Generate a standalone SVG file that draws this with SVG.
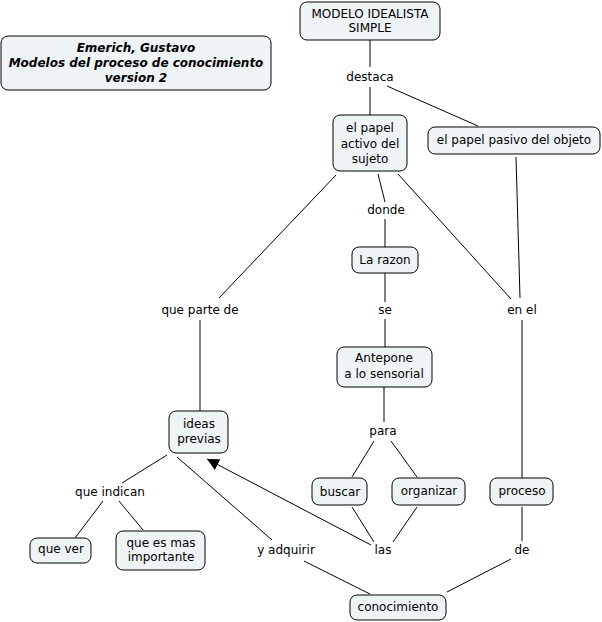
<svg xmlns="http://www.w3.org/2000/svg" width="602" height="622" viewBox="0 0 602 622">
<defs>
<style>
.n rect{fill:#eef3f5;stroke:#000;stroke-width:1}
text{font-family:"DejaVu Sans",Verdana,sans-serif;font-size:12px;fill:#000;text-anchor:middle;dominant-baseline:central}
.t{font-weight:bold;font-style:italic}
.c line{stroke:#000;stroke-width:1}
</style>
<marker id="ah" viewBox="0 0 10 10" refX="10" refY="5" markerWidth="12" markerHeight="12" markerUnits="userSpaceOnUse" orient="auto"><path d="M0,0L10,5L0,10z" fill="#000"/></marker>
</defs>
<rect width="602" height="622" fill="#fff"/>
<g class="c">
<line x1="370" y1="40" x2="370" y2="67"/>
<line x1="370" y1="87" x2="370" y2="115"/>
<line x1="387" y1="86" x2="478" y2="126"/>
<line x1="336" y1="175" x2="219" y2="298"/>
<line x1="200" y1="320" x2="200" y2="411"/>
<line x1="378" y1="174" x2="385" y2="202"/>
<line x1="385" y1="219" x2="385" y2="247"/>
<line x1="398" y1="174" x2="511" y2="299"/>
<line x1="516" y1="157" x2="520" y2="298"/>
<line x1="522" y1="320" x2="522" y2="478"/>
<line x1="385" y1="273" x2="385" y2="302"/>
<line x1="385" y1="319" x2="385" y2="347"/>
<line x1="384" y1="387" x2="384" y2="422"/>
<line x1="374" y1="441" x2="352" y2="477"/>
<line x1="391" y1="441" x2="417" y2="477"/>
<line x1="352" y1="507" x2="374" y2="542"/>
<line x1="417" y1="507" x2="393" y2="542"/>
<line x1="371" y1="545" x2="207" y2="459" marker-end="url(#ah)"/>
<line x1="167" y1="455" x2="122" y2="483"/>
<line x1="103" y1="501" x2="75" y2="538"/>
<line x1="119" y1="501" x2="143" y2="530"/>
<line x1="177" y1="457" x2="272" y2="540"/>
<line x1="304" y1="561" x2="370" y2="594"/>
<line x1="522" y1="507" x2="522" y2="541"/>
<line x1="511" y1="559" x2="447" y2="592"/>
</g>
<g id="title" class="n"><rect x="1" y="36" width="270" height="54" rx="7"/><text class="t" x="136" y="48">Emerich, Gustavo</text><text class="t" x="136" y="63">Modelos del proceso de conocimiento</text><text class="t" x="136" y="78">version 2</text></g>
<g id="modelo" class="n"><rect x="300" y="2" width="140" height="38" rx="7"/><text x="370" y="14">MODELO IDEALISTA</text><text x="370" y="28">SIMPLE</text></g>
<g id="destaca"><text x="370" y="77">destaca</text></g>
<g id="activo" class="n"><rect x="333" y="115" width="74" height="56" rx="7"/><text x="370" y="128">el papel</text><text x="370" y="144">activo del</text><text x="370" y="159">sujeto</text></g>
<g id="pasivo" class="n"><rect x="428" y="127" width="172" height="27" rx="7"/><text x="514" y="140">el papel pasivo del objeto</text></g>
<g id="donde"><text x="386" y="210">donde</text></g>
<g id="razon" class="n"><rect x="352" y="247" width="66" height="26" rx="7"/><text x="385" y="260">La razon</text></g>
<g id="se"><text x="385" y="310">se</text></g>
<g id="parte"><text x="200" y="310">que parte de</text></g>
<g id="enel"><text x="522" y="310">en el</text></g>
<g id="antepone" class="n"><rect x="337" y="347" width="95" height="40" rx="7"/><text x="384" y="358">Antepone</text><text x="384" y="374">a lo sensorial</text></g>
<g id="ideas" class="n"><rect x="169" y="411" width="59" height="42" rx="7"/><text x="199" y="424">ideas</text><text x="199" y="439">previas</text></g>
<g id="para"><text x="383" y="431">para</text></g>
<g id="buscar" class="n"><rect x="312" y="478" width="55" height="27" rx="7"/><text x="340" y="492">buscar</text></g>
<g id="organizar" class="n"><rect x="392" y="478" width="73" height="27" rx="7"/><text x="429" y="491">organizar</text></g>
<g id="proceso" class="n"><rect x="490" y="478" width="63" height="27" rx="7"/><text x="522" y="491">proceso</text></g>
<g id="indican"><text x="110" y="492">que indican</text></g>
<g id="adquirir"><text x="286" y="550">y adquirir</text></g>
<g id="las"><text x="383" y="550">las</text></g>
<g id="de"><text x="522" y="550">de</text></g>
<g id="quever" class="n"><rect x="30" y="538" width="61" height="25" rx="7"/><text x="61" y="549">que ver</text></g>
<g id="importante" class="n"><rect x="116" y="531" width="89" height="39" rx="7"/><text x="161" y="543">que es mas</text><text x="161" y="557">importante</text></g>
<g id="conocimiento" class="n"><rect x="350" y="595" width="96" height="25" rx="7"/><text x="398" y="607">conocimiento</text></g>
</svg>
